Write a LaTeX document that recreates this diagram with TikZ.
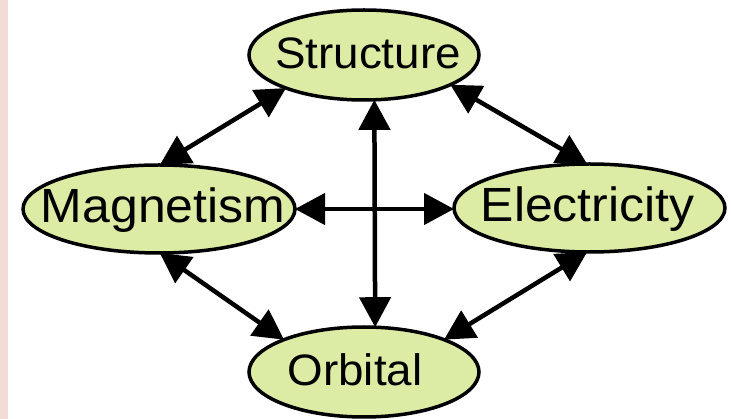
\documentclass[tikz,border=0pt]{standalone}
\usepackage{fontspec}
\setmainfont[FakeStretch=1.04]{Liberation Sans}
\usetikzlibrary{shapes.geometric,arrows.meta}
\definecolor{ellfill}{RGB}{220,236,164}
\definecolor{stripe}{RGB}{242,220,213}
\newcommand{\lbl}[2]{\makebox[0pt]{\kern#1\raisebox{-14pt}[0pt][0pt]{#2}\kern-#1}}
\tikzset{
  ell/.style={ellipse, draw=black, line width=3.5pt, fill=ellfill, inner sep=0pt, outer sep=0pt},
  big/.style={font=\fontsize{48pt}{50pt}\selectfont},
  mid/.style={font=\fontsize{44pt}{46pt}\selectfont},
  link/.style={line width=4.5pt, {Triangle[length=30pt,width=31pt]}-{Triangle[length=30pt,width=31pt]}}
}
\begin{document}
\begin{tikzpicture}[x=1pt,y=-1pt]
\useasboundingbox (0,0) rectangle (731,419);
\fill[stripe] (0,0) rectangle (8,419);
\node[ell, mid, minimum width=230pt, minimum height=90pt] (S) at (364,55) {\lbl{4pt}{Structure}};
\node[ell, big, minimum width=272pt, minimum height=88pt] (M) at (159,209) {\lbl{4pt}{Magnetism}};
\node[ell, big, minimum width=271pt, minimum height=88pt] (E) at (589.5,208) {\lbl{-2pt}{Electricity}};
\node[ell, mid, minimum width=230pt, minimum height=90pt] (O) at (364,372) {\lbl{-9pt}{Orbital}};
\draw[link] (M.89) -- (S.203);
\draw[link] (S.341) -- (E.93);
\draw[link] (M.271) -- (O.158);
\draw[link] (O.22) -- (E.267);
\draw[link] (S.283) -- (O.76);
\draw[link] (M.east) -- (M.east -| E.west);
\end{tikzpicture}
\end{document}
